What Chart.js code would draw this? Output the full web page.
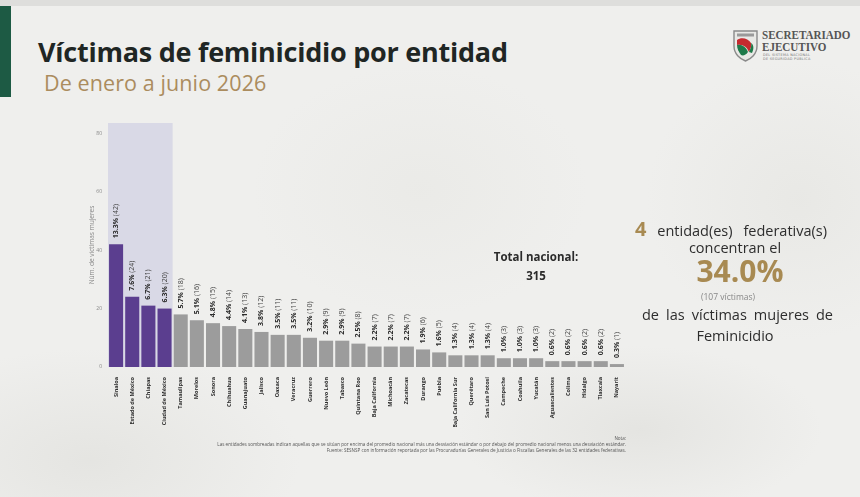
<!DOCTYPE html>
<html lang="es">
<head>
<meta charset="utf-8">
<title>Víctimas de feminicidio por entidad</title>
<script src="https://cdn.jsdelivr.net/npm/chart.js@4.4.1/dist/chart.umd.min.js"></script>
<style>
  html, body { margin: 0; padding: 0; }
  body {
    width: 860px; height: 497px; overflow: hidden; position: relative;
    font-family: "Open Sans", "Noto Sans", sans-serif;
    background: #efefed;
    background-image:
      radial-gradient(ellipse 260px 120px at 640px 430px, rgba(220,220,216,0.55), rgba(239,239,237,0) 70%),
      radial-gradient(ellipse 300px 160px at 90px 460px, rgba(222,222,218,0.6), rgba(239,239,237,0) 70%),
      radial-gradient(ellipse 240px 180px at 420px 190px, rgba(230,230,226,0.5), rgba(239,239,237,0) 70%),
      radial-gradient(ellipse 220px 200px at 800px 200px, rgba(228,228,224,0.6), rgba(239,239,237,0) 70%);
  }
  .strip { position: absolute; left: 0; top: 0; width: 860px; height: 6px; background: #dededc; }
  .greenbar { position: absolute; left: 0; top: 6px; width: 11px; height: 91px; background: #1d5a44; }
  .abs { position: absolute; line-height: 1; white-space: nowrap; }
  #titulo { left: 38px; top: 38px; font-size: 27px; font-weight: 700; color: #1f2624; letter-spacing: -0.25px; }
  #subtitulo { left: 44px; top: 72px; font-size: 21.5px; font-weight: 400; color: #ab8c5e; letter-spacing: 0.1px; }
  #chart { position: absolute; left: 0; top: 0; }
  .total { font-size: 11.5px; font-weight: 700; color: #2b2b2b; text-align: center; width: 120px; left: 476px; }
  .side { color: #2d2d2d; font-size: 14.5px; }
  .just { text-align: justify; text-align-last: justify; }
  .center { text-align: center; }
  .gold { color: #a88a52; font-weight: 700; }
  .nota { font-size: 4.6px; color: #555; text-align: right; right: 234px; }
  .logo-t { font-family: "Liberation Serif", "DejaVu Serif", serif; font-weight: 700; color: #555; font-size: 13.5px;
            left: 762px; transform: scaleX(0.82); transform-origin: left top; }
  .logo-s { font-family: "DejaVu Sans", sans-serif; color: #777; font-size: 3.4px; left: 763px; letter-spacing: 0.3px; }
</style>
</head>
<body>
<div class="strip"></div>
<div class="greenbar"></div>
<div class="abs" id="titulo">Víctimas de feminicidio por entidad</div>
<div class="abs" id="subtitulo">De enero a junio 2026</div>

<svg class="abs" style="left:732px;top:28px" width="27" height="34" viewBox="0 0 27 34">
  <path d="M2 3 L25 3 L25 18 C25 26 19 31 13.5 33 C8 31 2 26 2 18 Z" fill="#e9e9e6" stroke="#8a8a8a" stroke-width="1.4"/>
  <rect x="5" y="5.5" width="17" height="3" fill="#9a9a9a"/>
  <path d="M5 12 C9 9 16 10 19 15 C20 18 18 22 17 24 C15 19 11 16 5 17 Z" fill="#c62a2f"/>
  <path d="M5 17 C10 16 14 19 16 24 C14 27 11 28 9 27 C7 24 5 21 5 17 Z" fill="#1f7a4a"/>
  <path d="M19 15 C22 17 22 21 20 25 L17 24 C18 22 20 18 19 15 Z" fill="#1f7a4a"/>
</svg>
<div class="abs logo-t" style="top:28px">SECRETARIADO</div>
<div class="abs logo-t" style="top:40px">EJECUTIVO</div>
<div class="abs logo-s" style="top:54px">DEL SISTEMA NACIONAL</div>
<div class="abs logo-s" style="top:58px">DE SEGURIDAD PÚBLICA</div>

<canvas id="chart" width="860" height="497"></canvas>

<div class="abs total" style="top:251px">Total nacional:</div>
<div class="abs total" style="top:270px">315</div>

<div class="abs side just" style="left:635px;top:219px;width:192px"><span class="gold" style="font-size:20px">4</span> entidad(es) federativa(s)</div>
<div class="abs side center" style="left:635px;top:241px;width:200px">concentran el</div>
<div class="abs gold center" style="left:640px;top:256px;width:200px;font-size:30px">34.0%</div>
<div class="abs center" style="left:628px;top:293px;width:200px;font-size:8.5px;color:#888">(107 víctimas)</div>
<div class="abs side just" style="left:642px;top:308px;width:191px">de las víctimas mujeres de</div>
<div class="abs side center" style="left:635px;top:329px;width:200px">Feminicidio</div>

<div class="abs nota" style="top:436px">Nota:</div>
<div class="abs nota" style="top:442px">Las entidades sombreadas indican aquellas que se sitúan por encima del promedio nacional más una desviación estándar o por debajo del promedio nacional menos una desviación estándar.</div>
<div class="abs nota" style="top:448px">Fuente: SESNSP con información reportada por las Procuradurías Generales de Justicia o Fiscalías Generales de las 32 entidades federativas.</div>

<script>
const estados = ['Sinaloa', 'Estado de México', 'Chiapas', 'Ciudad de México', 'Tamaulipas', 'Morelos',
  'Sonora', 'Chihuahua', 'Guanajuato', 'Jalisco', 'Oaxaca', 'Veracruz', 'Guerrero', 'Nuevo León',
  'Tabasco', 'Quintana Roo', 'Baja California', 'Michoacán', 'Zacatecas', 'Durango', 'Puebla',
  'Baja California Sur', 'Querétaro', 'San Luis Potosí', 'Campeche', 'Coahuila', 'Yucatán',
  'Aguascalientes', 'Colima', 'Hidalgo', 'Tlaxcala', 'Nayarit'];
const victimas = [42, 24, 21, 20, 18, 16, 15, 14, 13, 12, 11, 11, 10, 9, 9, 8, 7, 7, 7, 6, 5,
  4, 4, 4, 3, 3, 3, 2, 2, 2, 2, 1];
const porcentajes = ['13.3%', '7.6%', '6.7%', '6.3%', '5.7%', '5.1%', '4.8%', '4.4%', '4.1%', '3.8%',
  '3.5%', '3.5%', '3.2%', '2.9%', '2.9%', '2.5%', '2.2%', '2.2%', '2.2%', '1.9%', '1.6%',
  '1.3%', '1.3%', '1.3%', '1.0%', '1.0%', '1.0%', '0.6%', '0.6%', '0.6%', '0.6%', '0.3%'];
const destacados = 4;
const yTicks = [0, 20, 40, 60, 80];

const MORADO = '#5b3e8f';
const GRIS = '#9c9c9c';

// franja sombreada detras de las entidades destacadas
const sombra = {
  id: 'sombra',
  beforeDatasetsDraw(chart) {
    const { ctx, chartArea, scales } = chart;
    const paso = scales.x.width / estados.length;
    const x0 = scales.x.getPixelForValue(0) - paso / 2;
    const x1 = scales.x.getPixelForValue(destacados - 1) + paso / 2;
    ctx.save();
    ctx.fillStyle = '#d9d9e6';
    ctx.fillRect(x0, chartArea.top, x1 - x0, chartArea.bottom - chartArea.top);
    ctx.restore();
  }
};

// etiquetas verticales "x.x% (n)" arriba de cada barra
const etiquetas = {
  id: 'etiquetas',
  afterDatasetsDraw(chart) {
    const { ctx } = chart;
    const meta = chart.getDatasetMeta(0);
    meta.data.forEach((bar, i) => {
      ctx.save();
      ctx.translate(bar.x, bar.y - 6);
      ctx.rotate(-Math.PI / 2);
      ctx.textAlign = 'left';
      ctx.textBaseline = 'middle';
      ctx.fillStyle = '#2b2b2b';
      ctx.font = 'bold 7px "Open Sans"';
      ctx.fillText(porcentajes[i], 0, 0);
      const w = ctx.measureText(porcentajes[i] + ' ').width;
      ctx.font = '7px "Open Sans"';
      ctx.fillStyle = '#444';
      ctx.fillText('(' + victimas[i] + ')', w, 0);
      ctx.restore();
    });
  }
};

new Chart(document.getElementById('chart'), {
  type: 'bar',
  data: {
    labels: estados,
    datasets: [{
      data: victimas,
      backgroundColor: victimas.map((v, i) => i < destacados ? MORADO : GRIS),
      borderWidth: 0,
      barPercentage: 0.87,
      categoryPercentage: 1
    }]
  },
  options: {
    responsive: false,
    animation: false,
    layout: { padding: { left: 88, right: 235, top: 123, bottom: 70 } },
    plugins: { legend: { display: false }, tooltip: { enabled: false } },
    scales: {
      x: {
        grid: { display: false, drawTicks: false },
        border: { display: false },
        ticks: {
          autoSkip: false, maxRotation: 90, minRotation: 90, padding: 10,
          color: '#2e2e2e', font: { family: 'Open Sans', size: 5.5, weight: 'bold' }
        },
        afterFit(scale) { scale.height = 60; }
      },
      y: {
        min: 0, max: 83.5,
        grid: { display: false, drawTicks: false },
        border: { display: false },
        afterBuildTicks(scale) { scale.ticks = yTicks.map(v => ({ value: v })); },
        ticks: { padding: 6, color: '#888', font: { family: 'Open Sans', size: 5 } },
        title: {
          display: true, text: 'Núm. de víctimas mujeres', color: '#888', padding: 0,
          font: { family: 'Open Sans', size: 6.5 }
        },
        afterFit(scale) { scale.width = 20; }
      }
    }
  },
  plugins: [sombra, etiquetas]
});
</script>
</body>
</html>
